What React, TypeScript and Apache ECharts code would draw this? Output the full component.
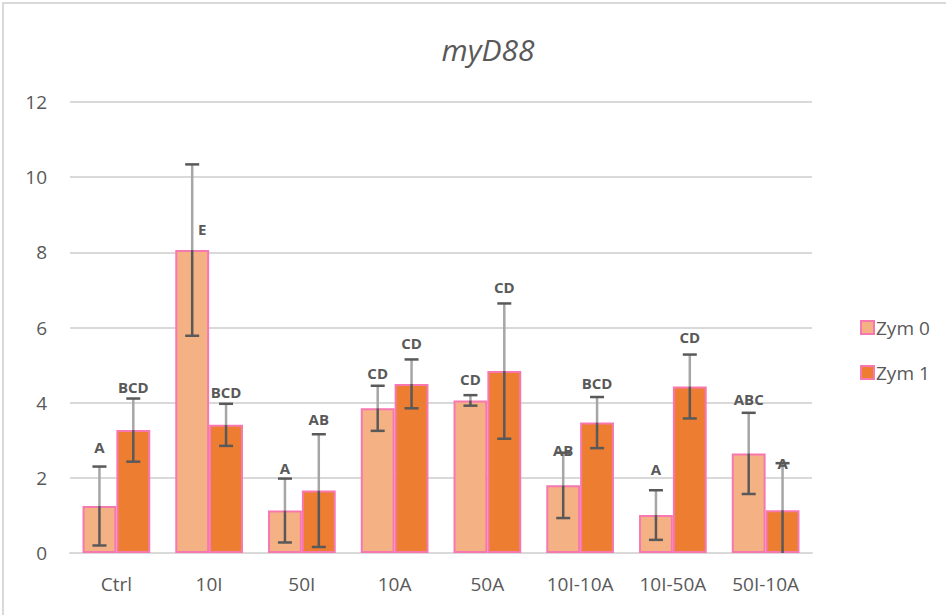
import React, { useEffect, useRef } from "react";
import * as echarts from "echarts";

const categories = ["Ctrl", "10I", "50I", "10A", "50A", "10I-10A", "10I-50A", "50I-10A"];
const seriesNames = ["Zym 0", "Zym 1"];
const zym0 = [1.25, 8.06, 1.13, 3.85, 4.06, 1.8, 1.01, 2.65];
const zym0Err = [1.05, 2.28, 0.85, 0.6, 0.14, 0.87, 0.66, 1.08];
const zym1 = [3.27, 3.41, 1.66, 4.5, 4.84, 3.47, 4.43, 1.14];
const zym1Err = [0.84, 0.56, 1.5, 0.65, 1.8, 0.68, 0.85, 1.25];
const zym0Letters = ["A", "E", "A", "CD", "CD", "AB", "A", "ABC"];
const zym1Letters = ["BCD", "BCD", "AB", "CD", "CD", "BCD", "CD", "A"];
const zym0LabelAt = [2.83, 8.62, 2.25, 4.8, 4.63, 2.74, 2.23, 4.1];
const zym1LabelAt = [4.43, 4.29, 3.56, 5.6, 7.07, 4.52, 5.74, 2.4];
const yTicks = { min: 0, max: 12, interval: 2 };

const FONT = "Open Sans";
const TEXT = "#595959";
const GRID = "#d9d9d9";
const BORDER = "#F778B0";
const COLORS = ["#F4B183", "#ED7D31"];
const CAT_GAP = 0.27;

function errorSeries(side: number, vals: number[], errs: number[], labelAt: number[], letters: string[]) {
  return {
    type: "custom",
    name: "err" + side,
    z: 10,
    encode: { x: 0, y: 1 },
    data: vals.map((v, i) => [i, v, errs[i], labelAt[i]]),
    renderItem: (params: any, api: any) => {
      const idx = api.value(0);
      const val = api.value(1);
      const err = api.value(2);
      const lab = api.value(3);
      const band = api.size([1, 0])[0];
      const barW = (band * (1 - CAT_GAP)) / 2;
      const [cx, yTop] = api.coord([idx, val]);
      const x = cx + side * (barW / 2);
      const yHi = api.coord([idx, val + err])[1];
      const lo = val - err;
      const yLo = api.coord([idx, Math.max(0, lo)])[1];
      const yLab = api.coord([idx, lab])[1];
      const capW = 7;
      const txt = letters[params.dataIndex];
      const children: any[] = [
        { type: "line", shape: { x1: x, y1: yHi, x2: x, y2: yTop }, style: { stroke: "#a6a6a6", lineWidth: 2.5 } },
        { type: "line", shape: { x1: x, y1: yTop, x2: x, y2: yLo }, style: { stroke: "#595959", lineWidth: 2.5 } },
        { type: "line", shape: { x1: x - capW, y1: yHi, x2: x + capW, y2: yHi }, style: { stroke: "#595959", lineWidth: 2.5 } },
      ];
      if (lo > 0) {
        children.push({ type: "line", shape: { x1: x - capW, y1: yLo, x2: x + capW, y2: yLo }, style: { stroke: "#595959", lineWidth: 2.5 } });
      }
      children.push({
        type: "text",
        x: x + (yLab > yHi ? 10 : 0),
        y: yLab,
        style: {
          text: txt,
          fontFamily: FONT,
          fontSize: 15,
          fontWeight: "bold",
          fill: TEXT,
          align: "center",
          verticalAlign: "middle",
        },
      });
      return { type: "group", children };
    },
  };
}

export default function App() {
  const ref = useRef<HTMLDivElement>(null);
  useEffect(() => {
    if (!ref.current) return;
    const chart = echarts.init(ref.current, null, { renderer: "svg" });
    const barItem = (c: string) => ({ color: c, borderColor: BORDER, borderWidth: 2 });
    chart.setOption({
      animation: false,
      backgroundColor: "#ffffff",
      textStyle: { fontFamily: FONT },
      title: {
        text: "myD88",
        left: 483,
        top: 29,
        textAlign: "center",
        textStyle: { fontFamily: FONT, fontSize: 30, fontStyle: "italic", fontWeight: "normal", color: TEXT },
      },
      graphic: [
        {
          type: "rect",
          shape: { x: 3, y: 3, width: 2000, height: 2000 },
          style: { fill: "none", stroke: GRID, lineWidth: 2 },
          silent: true,
        },
      ],
      legend: {
        orient: "vertical",
        left: 855,
        top: 313,
        itemWidth: 13,
        itemHeight: 13,
        itemGap: 26,
        icon: "rect",
        data: seriesNames.map((n, i) => ({ name: n, itemStyle: barItem(COLORS[i]) })),
        textStyle: { fontFamily: FONT, fontSize: 19, color: TEXT, padding: [0, 0, 0, -3] },
      },
      grid: { left: 70, right: 134, top: 102, bottom: 62, containLabel: false },
      xAxis: {
        type: "category",
        data: categories,
        axisLine: { lineStyle: { color: GRID, width: 2 } },
        axisTick: { show: false },
        axisLabel: { fontFamily: FONT, fontSize: 19, color: TEXT, margin: 21 },
      },
      yAxis: {
        type: "value",
        min: yTicks.min,
        max: yTicks.max,
        interval: yTicks.interval,
        axisLine: { show: false },
        axisTick: { show: false },
        splitLine: { lineStyle: { color: GRID, width: 2 } },
        axisLabel: { fontFamily: FONT, fontSize: 19, color: TEXT, margin: 23 },
      },
      series: [
        {
          type: "bar",
          name: seriesNames[0],
          data: zym0,
          barGap: "0%",
          barCategoryGap: CAT_GAP * 100 + "%",
          itemStyle: barItem(COLORS[0]),
        },
        {
          type: "bar",
          name: seriesNames[1],
          data: zym1,
          barGap: "0%",
          barCategoryGap: CAT_GAP * 100 + "%",
          itemStyle: barItem(COLORS[1]),
        },
        errorSeries(-1, zym0, zym0Err, zym0LabelAt, zym0Letters),
        errorSeries(1, zym1, zym1Err, zym1LabelAt, zym1Letters),
      ],
    });
    return () => chart.dispose();
  }, []);
  return (
    <div
      ref={ref}
      style={{ position: "fixed", left: 0, top: 0, width: 946, height: 615, background: "#fff" }}
    />
  );
}
